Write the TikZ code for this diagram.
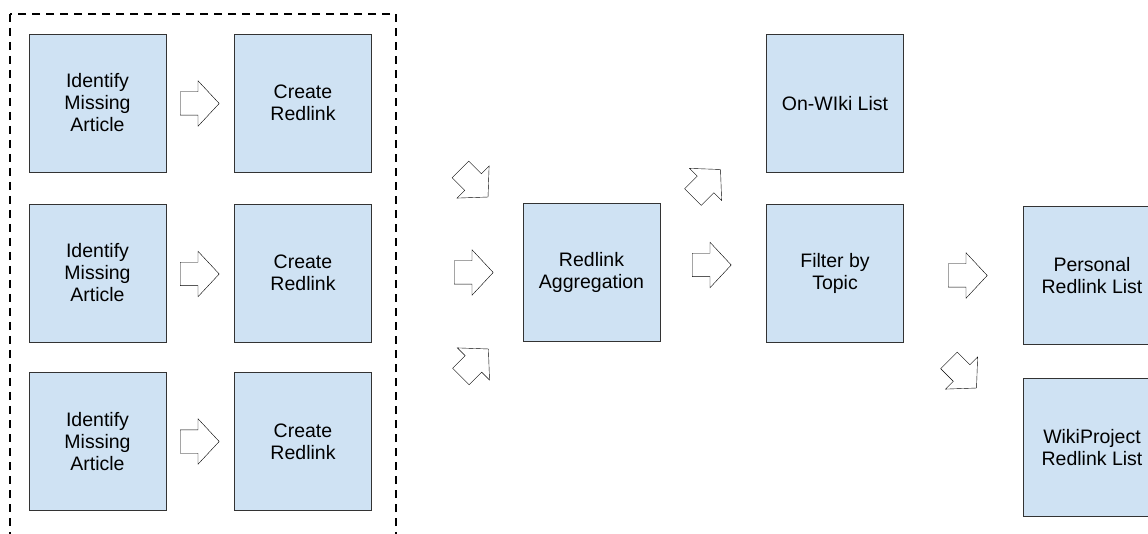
\documentclass[tikz,border=0pt]{standalone}
\usepackage{fontspec}
\setmainfont{Liberation Sans}
\usetikzlibrary{shapes.arrows}

\definecolor{boxblue}{RGB}{207,226,243}

\tikzset{
  stage/.style={draw=black!80, fill=boxblue, minimum width=137pt, minimum height=138pt,
    inner sep=0pt, align=center, font=\fontsize{19.5}{22}\selectfont},
  flow/.style={single arrow, draw=black, fill=white, inner xsep=0pt, inner ysep=11.5pt,
    single arrow head extend=11pt, single arrow tip angle=94,
    minimum height=39pt, anchor=tail},
  group/.style={draw=black, line width=2pt, dash pattern=on 8pt off 6pt}
}

\begin{document}
\begin{tikzpicture}[x=1pt, y=1pt]
  \useasboundingbox (0,0) rectangle (1148,533);

  % the three parallel contributions
  \draw[group] (10,519) rectangle (396,-20);

  \node[stage] (id1) at (97.5,430) {Identify\\Missing\\Article};
  \node[stage] (id2) at (97.5,260) {Identify\\Missing\\Article};
  \node[stage] (id3) at (97.5,91.5) {Identify\\Missing\\Article};

  \node[stage] (cr1) at (303,430) {Create\\Redlink};
  \node[stage] (cr2) at (303,260) {Create\\Redlink};
  \node[stage] (cr3) at (303,91.5) {Create\\Redlink};

  % arrows are placed by their tail
  \node[flow] (a1) at (180,429.5) {};
  \node[flow] (a2) at (180,259) {};
  \node[flow] (a3) at (180,91.5) {};

  % gathering
  \node[flow, rotate=-45] (in1) at (460.3,363.7) {};
  \node[flow] (in2) at (454,260.5) {};
  \node[flow, rotate=45] (in3) at (460.7,156.3) {};

  \node[stage] (agg) at (591.5,261) {Redlink\\Aggregation};

  % lists
  \node[flow, rotate=45] (out1) at (692.8,335.8) {};
  \node[flow] (out2) at (692,268) {};

  \node[stage] (wiki) at (835,429.5) {On-WIki List};
  \node[stage] (topic) at (835,260) {Filter by\\Topic};

  \node[flow] (b1) at (948,257.5) {};
  \node[flow, rotate=-45] (b2) at (948.8,172.7) {};

  \node[stage] (personal) at (1092,257.5) {Personal\\Redlink List};
  \node[stage] (project) at (1092,85.5) {WikiProject\\Redlink List};
\end{tikzpicture}
\end{document}
